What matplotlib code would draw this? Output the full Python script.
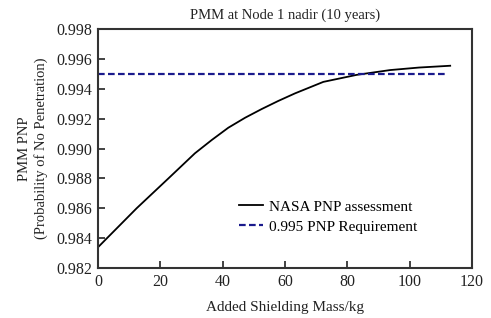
import matplotlib
matplotlib.use("Agg")
import matplotlib.pyplot as plt

plt.rcParams['font.family'] = ['Liberation Serif', 'DejaVu Serif']

mass = [0, 12.4, 22.6, 31.1, 36.5, 41.8, 47.2, 52.5, 57.8, 63.2, 72.3, 83, 93.7, 103, 113]
pnp = [0.98339, 0.986, 0.988, 0.98968, 0.99057, 0.99139, 0.99206, 0.99264, 0.99318,
       0.99369, 0.99446, 0.99493, 0.99525, 0.99542, 0.99554]
req_x = [0, 112.3]
req_y = [0.995, 0.995]
xticks = [0, 20, 40, 60, 80, 100, 120]
yticks = [0.982, 0.984, 0.986, 0.988, 0.990, 0.992, 0.994, 0.996, 0.998]

fig = plt.figure(figsize=(4.91, 3.18), dpi=100)
ax = fig.add_axes([0.1996, 0.1572, 0.7617, 0.7516])

ax.plot(mass, pnp, color='black', lw=1.3, label='NASA PNP assessment')
ax.plot(req_x, req_y, color='#1a1a8c', lw=1.6, ls=(0, (3, 1.5)), label='0.995 PNP Requirement')

ax.set_xlim(0, 120)
ax.set_ylim(0.982, 0.998)
ax.set_xticks(xticks)
ax.set_yticks(yticks)
ax.set_yticklabels([f"{v:.3f}" for v in yticks])
ax.tick_params(direction='in', length=5, width=1.2, labelsize=11.5, colors='#222222',
               top=False, right=False, pad=4)
for s in ax.spines.values():
    s.set_linewidth(1.5)
    s.set_color('#333333')

ax.set_title('PMM at Node 1 nadir (10 years)', fontsize=10.5, pad=7, color='#222222')
ax.set_xlabel('Added Shielding Mass/kg', fontsize=11, labelpad=8, color='#222222')
ax.set_ylabel('PMM PNP\n(Probability of No Penetration)', fontsize=10.5, labelpad=6,
              color='#222222', linespacing=1.3)

leg = ax.legend(loc='center left', bbox_to_anchor=(0.36, 0.214), frameon=False,
                fontsize=11, handlelength=1.6, handletextpad=0.35, borderaxespad=0,
                labelspacing=0.4)

fig.savefig('out.png', dpi=100)
